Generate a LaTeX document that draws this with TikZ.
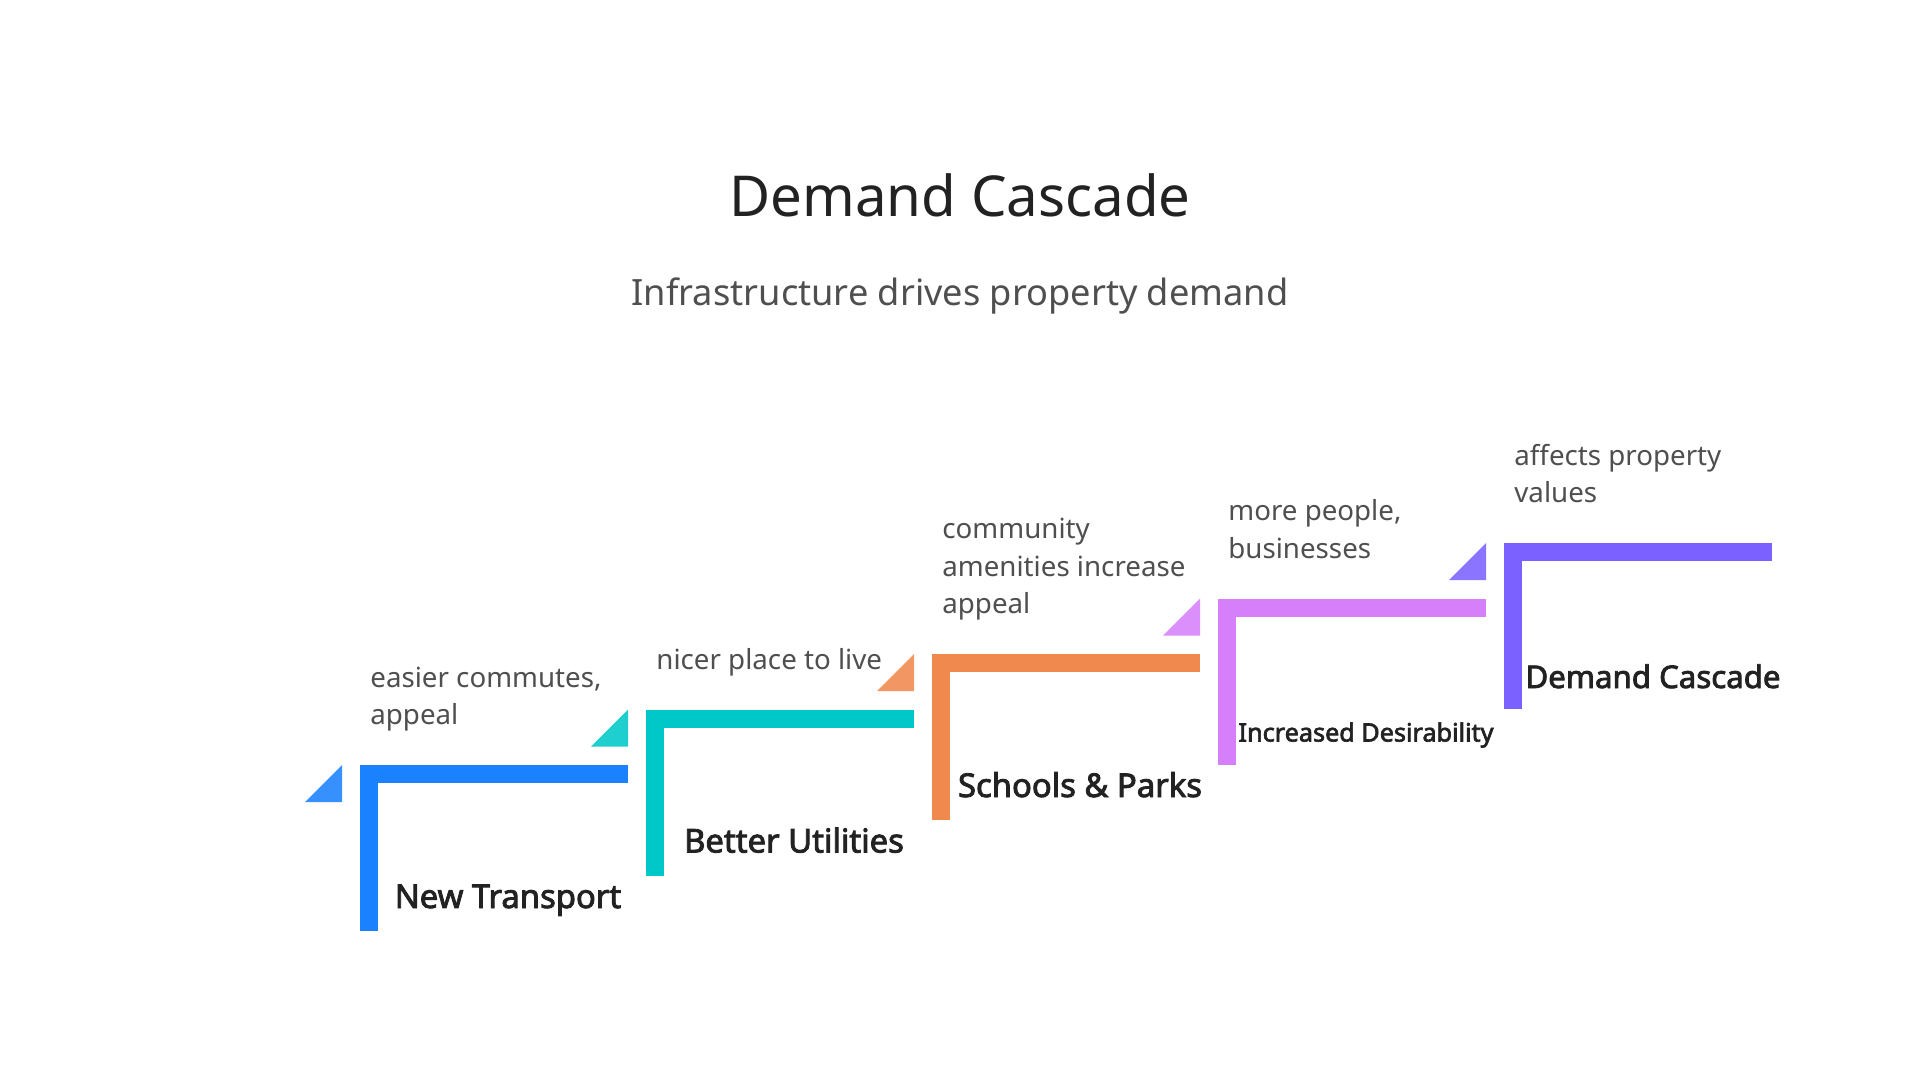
\documentclass[tikz,border=0pt]{standalone}
\usepackage{fontspec}
\setmainfont{Noto Sans}[AutoFakeBold=2.6]
\usetikzlibrary{positioning,calc}
\definecolor{cascadeBlue}{HTML}{1A82FF}
\definecolor{cascadeTeal}{HTML}{00C8C8}
\definecolor{cascadeOrange}{HTML}{F0894E}
\definecolor{cascadePink}{HTML}{D580FA}
\definecolor{cascadeViolet}{HTML}{7B61FF}
\definecolor{inkDark}{HTML}{222222}
\definecolor{inkGrey}{HTML}{4F4F4F}

\tikzset{
  mainTitle/.style={inkDark,font=\fontsize{28.2}{34}\selectfont,anchor=base,inner sep=0pt},
  subTitle/.style={inkGrey,font=\fontsize{18.1}{22}\selectfont,anchor=base,inner sep=0pt},
  stepDesc/.style={inkGrey,font=\fontsize{13.85}{18.75}\selectfont,align=left,anchor=south west,inner sep=0pt},
  stepLabel/.style={inkDark,font=\bfseries\fontsize{16.4}{20}\selectfont,anchor=base,inner sep=0pt},
}

\begin{document}
\begin{tikzpicture}[x=0.5pt,y=-0.5pt]
  \useasboundingbox (0,0) rectangle (1920,1080);
  \fill[white] (0,0) rectangle (1920,1080);

  \node[mainTitle] (title) at (960,217) {Demand Cascade};
  \node[subTitle] (subtitle) at (960,306) {Infrastructure drives property demand};

  % stair brackets with their corner triangles
  \foreach \i/\col in {0/cascadeBlue,1/cascadeTeal,2/cascadeOrange,3/cascadePink,4/cascadeViolet}{
    \coordinate (s\i) at (360+286*\i,765-55.5*\i);
    \fill[\col] (s\i) rectangle ++(268,18);
    \fill[\col] (s\i) rectangle ++(18,166);
    \fill[\col!88!white] ($(s\i)+(-18,0)$) -- ++(0,37) -- ++(-37,0) -- cycle;
  }

  % what each step brings
  \node[stepDesc] (d0) at ($(s0)+(10,-28.75)$) {easier commutes,\\appeal\strut};
  \node[stepDesc] (d1) at ($(s1)+(10,-28.75)$) {nicer place to live\strut};
  \node[stepDesc] (d2) at ($(s2)+(10,-28.75)$) {community\\amenities increase\\appeal\strut};
  \node[stepDesc] (d3) at ($(s3)+(10,-28.75)$) {more people,\\businesses\strut};
  \node[stepDesc] (d4) at ($(s4)+(10,-28.75)$) {affects property\\values\strut};

  % step names
  \node[stepLabel] (l0) at ($(s0)+(148,143)$) {New Transport};
  \node[stepLabel] (l1) at ($(s1)+(148,143)$) {Better Utilities};
  \node[stepLabel] (l2) at ($(s2)+(148,143)$) {Schools \& Parks};
  \node[stepLabel,font=\bfseries\fontsize{12.6}{15}\selectfont] (l3) at ($(s3)+(148,143)$) {Increased Desirability};
  \node[stepLabel,font=\bfseries\fontsize{15.6}{19}\selectfont] (l4) at ($(s4)+(149,145)$) {Demand Cascade};
\end{tikzpicture}
\end{document}
